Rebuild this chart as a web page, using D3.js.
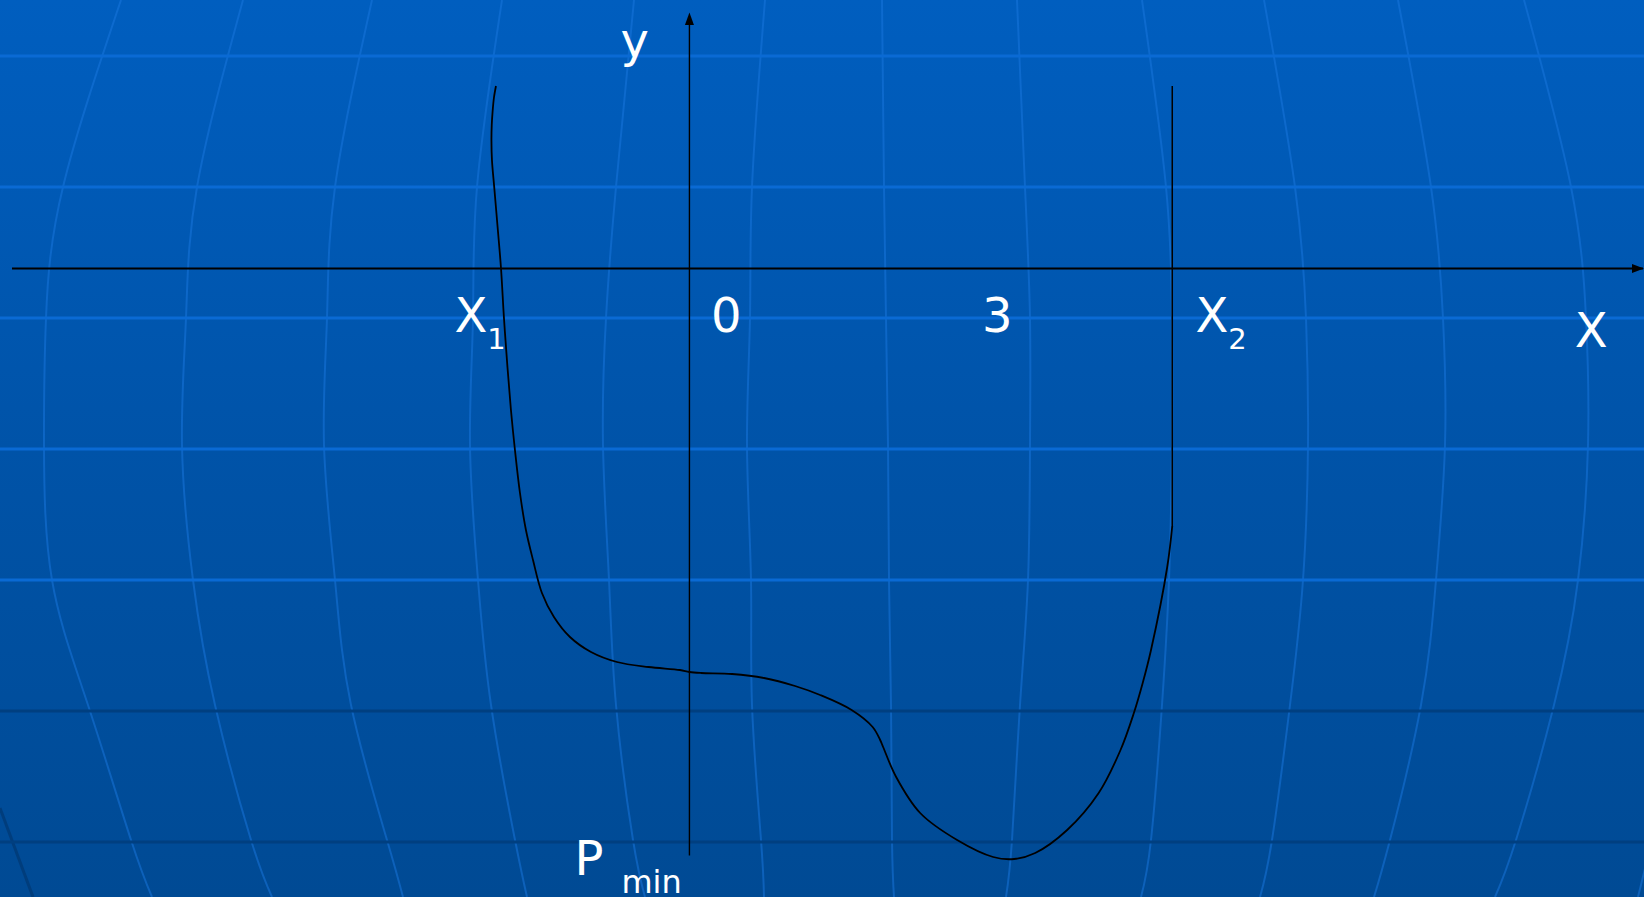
<!DOCTYPE html>
<html>
<head>
<meta charset="utf-8">
<script src="https://cdn.jsdelivr.net/npm/d3@7"></script>
<style>
  html, body { margin: 0; padding: 0; overflow: hidden; background: #0054aa; }
  svg { display: block; }
  text { font-family: "DejaVu Sans", Verdana, sans-serif; fill: #ffffff; }
</style>
</head>
<body>
<svg id="chart" width="1644" height="897"></svg>
<script>
// ---------------- DATA ----------------
// Curve P(x): x in axis units, y in axis units
const curveX = [-1.885, -1.905, -1.918, -1.926, -1.929, -1.924, -1.902, -1.869, -1.836, -1.807,
                -1.773, -1.739, -1.700, -1.651, -1.593, -1.524, -1.437, -1.320, -1.164, -0.959,
                -0.706, -0.399, -0.092,  0.000,  0.113,  0.415,  0.727,  1.029,  1.273,  1.580,
                 1.785,  1.858,  1.887,  2.014,  2.248,  2.608,  2.959,  3.164,  3.369,  3.680,
                 3.987,  4.200,  4.330,  4.416,  4.497,  4.655,  4.704];
const curveY = [ 1.825,  1.705,  1.565,  1.435,  1.285,  1.085,  0.815,  0.415,  0.005, -0.495,
                -0.985, -1.415, -1.815, -2.245, -2.615, -2.915, -3.245, -3.485, -3.685, -3.835,
                -3.935, -3.985, -4.015, -4.035, -4.045, -4.055, -4.095, -4.175, -4.265, -4.415,
                -4.585, -4.715, -4.785, -5.085, -5.445, -5.715, -5.885, -5.905, -5.845, -5.615,
                -5.245, -4.815, -4.445, -4.145, -3.815, -2.985, -2.575];
// vertical line at X2 (from curve end up to top)
const x2Value = 4.704;
const x2LineTop = 1.825;
// axis extents
const xAxisRange = [-6.6, 9.3];
const yAxisRange = [-5.87, 2.56];
// labels along the x axis: text, subscript, position (axis units)
const xLabels = ["X", "0", "3", "X", "X"];
const xLabelSubs = ["1", "", "", "2", ""];
const xLabelVals = [-2.29, 0.21, 2.85, 4.93, 8.625];
const yLabel = "y";
const pLabel = "P";
const pLabelSub = "min";

// ---------------- LAYOUT ----------------
const W = 1644, H = 897;
const svg = d3.select("#chart");
const x = d3.scaleLinear().domain([-6.6, 9.3]).range([12, 1644]);
const y = d3.scaleLinear().domain([2.685, -6.285]).range([0, 897]);

// ---------------- BACKGROUND (decorative globe grid) ----------------
const defs = svg.append("defs");
const grad = defs.append("linearGradient").attr("id", "bg")
  .attr("x1", 0).attr("y1", 0).attr("x2", 0).attr("y2", 1);
grad.append("stop").attr("offset", 0).attr("stop-color", "#005ebf");
grad.append("stop").attr("offset", 0.5).attr("stop-color", "#0053a8");
grad.append("stop").attr("offset", 1).attr("stop-color", "#004a94");
svg.append("rect").attr("width", W).attr("height", H).attr("fill", "url(#bg)");

// meridian decoration: [y, x] pixel pairs
const meridians = [
  [[0,121],[187,63],[318,46],[445,44],[580,52],[705,88],[840,131],[897,152]],
  [[0,243],[187,197],[318,186],[445,182],[580,193],[705,215],[840,251],[897,272]],
  [[0,372],[187,335],[318,327],[445,324],[580,335],[705,351],[840,387],[897,403]],
  [[0,502],[187,477],[318,473],[445,470],[580,478],[705,491],[840,515],[897,527]],
  [[0,634],[187,616],[318,606],[445,603],[580,609],[705,616],[840,633],[897,645]],
  [[0,765],[187,752],[318,750],[445,747],[580,751],[705,752],[840,761],[897,764]],
  [[0,882],[187,884],[318,886],[445,888],[580,889],[705,891],[840,892],[897,894]],
  [[0,1017],[187,1025],[318,1030],[445,1030],[580,1028],[705,1020],[840,1012],[897,1006]],
  [[0,1142],[187,1166],[318,1172],[445,1172],[580,1169],[705,1162],[840,1151],[897,1141]],
  [[0,1264],[187,1295],[318,1306],[445,1308],[580,1303],[705,1290],[840,1272],[897,1260]],
  [[0,1398],[187,1431],[318,1443],[445,1445],[580,1436],[705,1421],[840,1390],[897,1374]],
  [[0,1524],[187,1571],[318,1586],[445,1588],[580,1578],[705,1554],[840,1516],[897,1495]],
  [[840,1652],[897,1638]]
];
const merLine = d3.line().x(d => d[1]).y(d => d[0]).curve(d3.curveNatural);
svg.append("g").selectAll("path").data(meridians).join("path")
  .attr("d", merLine).attr("fill", "none")
  .attr("stroke", "#1a78e0").attr("stroke-opacity", 0.5).attr("stroke-width", 2);
svg.append("line").attr("x1", 0).attr("y1", 808).attr("x2", 33).attr("y2", 897)
  .attr("stroke", "#003a75").attr("stroke-width", 3).attr("stroke-opacity", 0.8);

const hLight = [56, 187, 318, 449, 580];
const hDark = [711, 842];
svg.append("g").selectAll("line").data(hLight).join("line")
  .attr("x1", 0).attr("x2", W).attr("y1", d => d).attr("y2", d => d)
  .attr("stroke", "#0a6ad4").attr("stroke-width", 3);
svg.append("g").selectAll("line").data(hDark).join("line")
  .attr("x1", 0).attr("x2", W).attr("y1", d => d).attr("y2", d => d)
  .attr("stroke", "#003f80").attr("stroke-width", 3);

// ---------------- AXES ----------------
// x axis
svg.append("line")
  .attr("x1", x(xAxisRange[0])).attr("x2", x(xAxisRange[1]) - 1)
  .attr("y1", y(0)).attr("y2", y(0))
  .attr("stroke", "#000").attr("stroke-width", 1.8);
svg.append("path")
  .attr("d", `M${x(xAxisRange[1])},${y(0)} l-12,-4.5 l0,9 Z`).attr("fill", "#000");

// y axis
svg.append("line")
  .attr("x1", x(0)).attr("x2", x(0))
  .attr("y1", y(yAxisRange[1]) + 10).attr("y2", y(yAxisRange[0]))
  .attr("stroke", "#000").attr("stroke-width", 1.4);
svg.append("path")
  .attr("d", `M${x(0)},${y(yAxisRange[1])} l-4.5,12.5 l9,0 Z`).attr("fill", "#000");

// ---------------- CURVE ----------------
const pts = curveX.map((v, i) => [v, curveY[i]]);
const line = d3.line().x(d => x(d[0])).y(d => y(d[1])).curve(d3.curveCatmullRom.alpha(0.5));
svg.append("path").attr("d", line(pts)).attr("fill", "none")
  .attr("stroke", "#000").attr("stroke-width", 1.8).attr("stroke-linejoin", "round");
svg.append("line")
  .attr("x1", x(x2Value)).attr("x2", x(x2Value))
  .attr("y1", y(curveY[curveY.length - 1])).attr("y2", y(x2LineTop))
  .attr("stroke", "#000").attr("stroke-width", 1.5);

// ---------------- LABELS ----------------
const labelG = svg.append("g");
xLabels.forEach((t, i) => {
  const isAxisName = i === xLabels.length - 1;
  const tx = labelG.append("text")
    .attr("x", x(xLabelVals[i]))
    .attr("y", isAxisName ? 347 : 332)
    .attr("font-size", 48)
    .text(t);
  if (xLabelSubs[i]) {
    tx.append("tspan").attr("dy", 17).attr("font-size", 29).text(xLabelSubs[i]);
  }
});
labelG.append("text").attr("x", x(0) - 69).attr("y", 57).attr("font-size", 48).text(yLabel);
labelG.append("text").attr("x", x(0) - 115).attr("y", 875).attr("font-size", 48).text(pLabel);
labelG.append("text").attr("x", x(0) - 68).attr("y", 893).attr("font-size", 32).text(pLabelSub);
</script>
</body>
</html>
